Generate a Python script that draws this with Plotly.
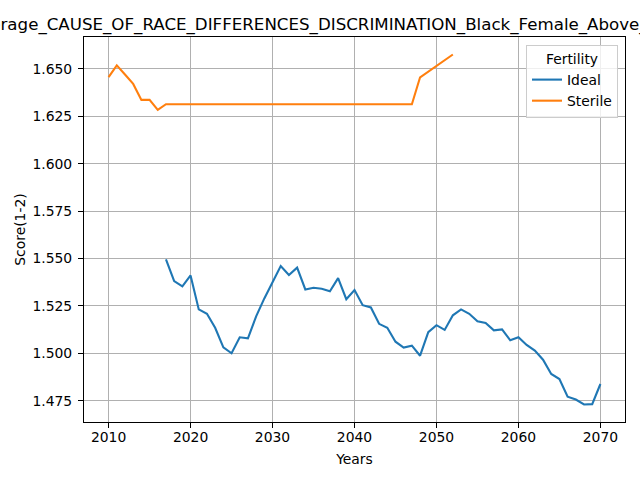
import plotly.graph_objects as go

# ---- data ----
sterile_years = list(range(2010, 2053))
sterile_values = [1.6456, 1.6518, 1.6470, 1.6420, 1.6336, 1.6336, 1.6283, 1.6313,
                  1.6313, 1.6313, 1.6313, 1.6313, 1.6313, 1.6313, 1.6313, 1.6313,
                  1.6313, 1.6313, 1.6313, 1.6313, 1.6313, 1.6313, 1.6313, 1.6313,
                  1.6313, 1.6313, 1.6313, 1.6313, 1.6313, 1.6313, 1.6313, 1.6313,
                  1.6313, 1.6313, 1.6313, 1.6313, 1.6313, 1.6313,
                  1.6455, 1.6485, 1.6515, 1.6545, 1.6575]

ideal_years = list(range(2017, 2071))
ideal_values = [1.5496, 1.5381, 1.5353, 1.5411, 1.5232, 1.5209, 1.5135, 1.5032,
                1.5001, 1.5085, 1.5080, 1.5195, 1.5290, 1.5376, 1.5460, 1.5413,
                1.5452, 1.5337, 1.5346, 1.5341, 1.5328, 1.5397, 1.5286, 1.5334,
                1.5254, 1.5242, 1.5156, 1.5135, 1.5062, 1.5031, 1.5041, 1.4988,
                1.5112, 1.5149, 1.5124, 1.5201, 1.5232, 1.5209, 1.5170, 1.5161,
                1.5122, 1.5127, 1.5069, 1.5085, 1.5045, 1.5015, 1.4967, 1.4892,
                1.4865, 1.4772, 1.4757, 1.4731, 1.4733, 1.4839]

x_ticks = [2010, 2020, 2030, 2040, 2050, 2060, 2070]
y_ticks = [1.475, 1.500, 1.525, 1.550, 1.575, 1.600, 1.625, 1.650]

title_text = "Average_CAUSE_OF_RACE_DIFFERENCES_DISCRIMINATION_Black_Female_Above_Median_Income"
legend_title = "Fertility"
x_label = "Years"
y_label = "Score(1-2)"

# ---- layout constants ----
W, H = 640, 480
L, R, T, B = 84, 15, 37, 58
PW = W - L - R
PH = H - T - B
FONT = "DejaVu Sans"
FS_TICK = 13.9
FS_TITLE = 16.67

all_x = sterile_years + ideal_years
all_y = sterile_values + ideal_values
xpad = (max(all_x) - min(all_x)) * 0.05
ypad = (max(all_y) - min(all_y)) * 0.05

fig = go.Figure()
fig.add_trace(go.Scatter(x=ideal_years, y=ideal_values, mode="lines", name="Ideal",
                         line=dict(color="#1f77b4", width=2.1)))
fig.add_trace(go.Scatter(x=sterile_years, y=sterile_values, mode="lines", name="Sterile",
                         line=dict(color="#ff7f0e", width=2.1)))

axis_common = dict(
    showgrid=True, gridcolor="#b0b0b0", gridwidth=1.1,
    showline=True, linecolor="black", linewidth=1.1, mirror=True,
    ticks="outside", ticklen=5, tickwidth=1.1, tickcolor="black",
    tickfont=dict(family=FONT, size=FS_TICK, color="black"),
    zeroline=False,
)

fig.update_layout(
    width=W, height=H,
    margin=dict(l=L, r=R, t=T, b=B, autoexpand=False),
    paper_bgcolor="white", plot_bgcolor="white",
    font=dict(family=FONT, size=FS_TICK, color="black"),
    xaxis=dict(range=[min(all_x) - xpad, max(all_x) + xpad], tickvals=x_ticks,
               ticklabelstandoff=-3,
               title=dict(text=x_label, font=dict(family=FONT, size=FS_TICK), standoff=10),
               automargin=False, **axis_common),
    yaxis=dict(range=[min(all_y) - ypad, max(all_y) + ypad], tickvals=y_ticks,
               tickformat=".3f", ticklabelstandoff=3,
               title=dict(text=y_label, font=dict(family=FONT, size=FS_TICK), standoff=3),
               automargin=False, **axis_common),
    legend=dict(
        title=dict(text=legend_title, side="top center",
                   font=dict(family=FONT, size=FS_TICK, color="black")),
        font=dict(family=FONT, size=FS_TICK, color="black"),
        x=(618 - L) / PW, y=(H - B - 45) / PH, xanchor="right", yanchor="top",
        bgcolor="rgba(255,255,255,0.8)", bordercolor="#cccccc", borderwidth=1,
        tracegroupgap=0,
    ),
    showlegend=True,
)

fig.add_annotation(
    text=title_text, xref="paper", yref="paper",
    x=(-32 - L) / PW, y=1, xanchor="left", yanchor="bottom",
    showarrow=False, yshift=0,
    font=dict(family=FONT, size=FS_TITLE, color="black"),
)

fig.write_html("out.html",
               config={"displayModeBar": False},
               post_script="document.body.style.margin='0';document.body.style.padding='0';")
